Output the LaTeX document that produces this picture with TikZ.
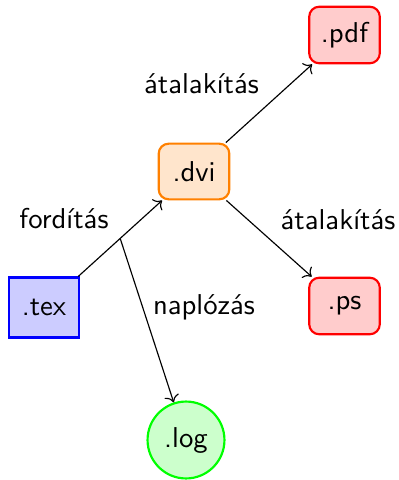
\documentclass[tikz,border=0pt]{standalone}
\usetikzlibrary{arrows.meta}
\begin{document}
\begin{tikzpicture}[x=0.3484pt,y=-0.3484pt,
  every node/.style={font=\sffamily},
  filebox/.style={draw,line width=0.75pt,minimum width=24.6pt,inner sep=0pt},
  flow/.style={->,line width=0.4pt},
  lbl/.style={inner sep=0pt}]
  \useasboundingbox (0,0) rectangle (398,480);
  % file nodes
  \node[filebox,draw=blue,fill=blue!20,minimum height=20.9pt] (tex) at (44,307.5) {.tex};
  \node[filebox,draw=orange,fill=orange!20,rounded corners=3.5pt,minimum height=19.4pt] (dvi) at (194,171.5) {.dvi};
  \node[filebox,draw=red,fill=red!20,rounded corners=3.5pt,minimum height=19.7pt] (pdf) at (344.5,35) {.pdf};
  \node[filebox,draw=red,fill=red!20,rounded corners=3.5pt,minimum height=19.7pt] (ps) at (344.5,306) {.ps};
  \node[circle,draw=green,fill=green!20,line width=0.75pt,minimum size=26.8pt,inner sep=0pt] (log) at (186,440) {.log};
  % connectors
  \draw[flow] (tex) -- coordinate[pos=0.5] (mid) (dvi);
  \draw[flow] (mid) -- (log);
  \draw[flow] (dvi) -- (pdf);
  \draw[flow] (dvi) -- (ps);
  % labels
  \node[lbl] (l1) at (64,219) {fordítás};
  \node[lbl] (l2) at (201.5,84) {átalakítás};
  \node[lbl] (l3) at (338,220) {átalakítás};
  \node[lbl] (l4) at (204,307) {naplózás};
\end{tikzpicture}
\end{document}
